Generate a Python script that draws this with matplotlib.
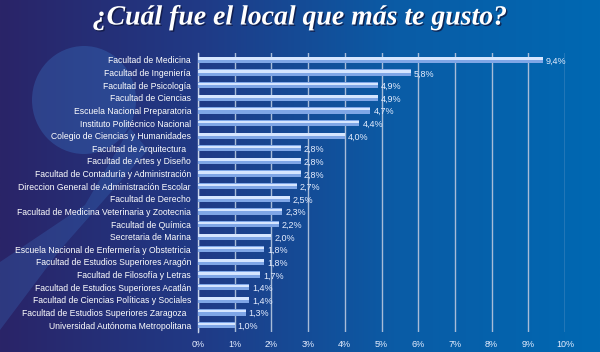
import numpy as np
import matplotlib
matplotlib.use("Agg")
import matplotlib.pyplot as plt
from matplotlib.colors import LinearSegmentedColormap
from matplotlib.patches import Ellipse, Polygon
import matplotlib.patheffects as pe

categories = [
    "Facultad de Medicina", "Facultad de Ingeniería", "Facultad de Psicología",
    "Facultad de Ciencias", "Escuela Nacional Preparatoria", "Instituto Politécnico Nacional",
    "Colegio de Ciencias y Humanidades", "Facultad de Arquitectura  ", "Facultad de Artes y Diseño",
    "Facultad de Contaduría y Administración", "Direccion General de Administración Escolar",
    "Facultad de Derecho", "Facultad de Medicina Veterinaria y Zootecnia", "Facultad de Química",
    "Secretaria de Marina", "Escuela Nacional de Enfermería y Obstetricia",
    "Facultad de Estudios Superiores Aragón", "Facultad de Filosofía y Letras",
    "Facultad de Estudios Superiores Acatlán", "Facultad de Ciencias Políticas y Sociales",
    "Facultad de Estudios Superiores Zaragoza  ", "Universidad Autónoma Metropolitana",
]
values = [9.4, 5.8, 4.9, 4.9, 4.7, 4.4, 4.0, 2.8, 2.8, 2.8, 2.7, 2.5, 2.3, 2.2, 2.0,
          1.8, 1.8, 1.7, 1.4, 1.4, 1.3, 1.0]
value_labels = ["9,4%", "5,8%", "4,9%", "4,9%", "4,7%", "4,4%", "4,0%", "2,8%", "2,8%", "2,8%",
                "2,7%", "2,5%", "2,3%", "2,2%", "2,0%", "1,8%", "1,8%", "1,7%", "1,4%", "1,4%",
                "1,3%", "1,0%"]
xticks = list(range(0, 11))
xtick_labels = [f"{t}%" for t in xticks]
title = "¿Cuál fue el local que más te gusto?"

W, H = 600, 352
fig = plt.figure(figsize=(W / 100, H / 100), dpi=100)

# background gradient (pixel coordinates, y downwards)
bg = fig.add_axes([0, 0, 1, 1], zorder=0)
cmap = LinearSegmentedColormap.from_list("bg", ["#2a2468", "#203a86", "#0a5ca6", "#0068b2"])
grad = np.linspace(0, 1, 256).reshape(1, -1)
bg.imshow(grad, aspect="auto", cmap=cmap, extent=[0, W, H, 0])
bg.set_xlim(0, W)
bg.set_ylim(H, 0)
bg.axis("off")
deco = "#3f86d8"
bg.add_patch(Ellipse((84, 100), 104, 108, color=deco, alpha=0.28, lw=0))
bg.add_patch(Polygon([(130, 128), (148, 150), (60, 250), (0, 330), (0, 262), (85, 205)],
                     closed=True, color=deco, alpha=0.22, lw=0))
bg.text(300, 18, title, fontsize=20, family="Liberation Serif", fontweight="bold",
        fontstyle="italic", color="white", ha="center", va="center",
        path_effects=[pe.withSimplePatchShadow(offset=(1, -1), shadow_rgbFace="#101840", alpha=0.8)])

ax = fig.add_axes([198 / W, 1 - 332 / H, (565 - 198) / W, (332 - 53) / H], zorder=1)
ax.patch.set_alpha(0)
y = np.arange(len(categories))
ax.barh(y, values, height=0.5, color="#7fa6e6", edgecolor="none", zorder=3)
ax.barh(y - 0.1, values, height=0.2, color="#d6e6ff", edgecolor="none", zorder=4)
for yi, v, lab in zip(y, values, value_labels):
    ax.text(v + 0.08, yi + 0.1, lab, color="#e6eeff", fontsize=6.5, va="center", ha="left",
            family="Liberation Sans", zorder=5)

ax.set_ylim(len(categories) - 0.45, -0.55)
ax.set_xlim(0, 10)
ax.set_xticks(xticks)
ax.set_xticklabels(xtick_labels, color="#e6eeff", fontsize=6.5, family="Liberation Sans")
ax.set_yticks(y)
ax.set_yticklabels(categories, color="white", fontsize=6.2, family="Liberation Sans")
ax.tick_params(axis="both", length=0, pad=5)
ax.tick_params(axis="x", pad=6)
ax.xaxis.grid(True, color="#a8bcd8", linewidth=1.0, zorder=1)
for s in ["top", "right", "bottom"]:
    ax.spines[s].set_visible(False)
ax.spines["left"].set_color("#c8d4e8")
ax.spines["left"].set_linewidth(1.0)

fig.savefig("out.png", dpi=100)
